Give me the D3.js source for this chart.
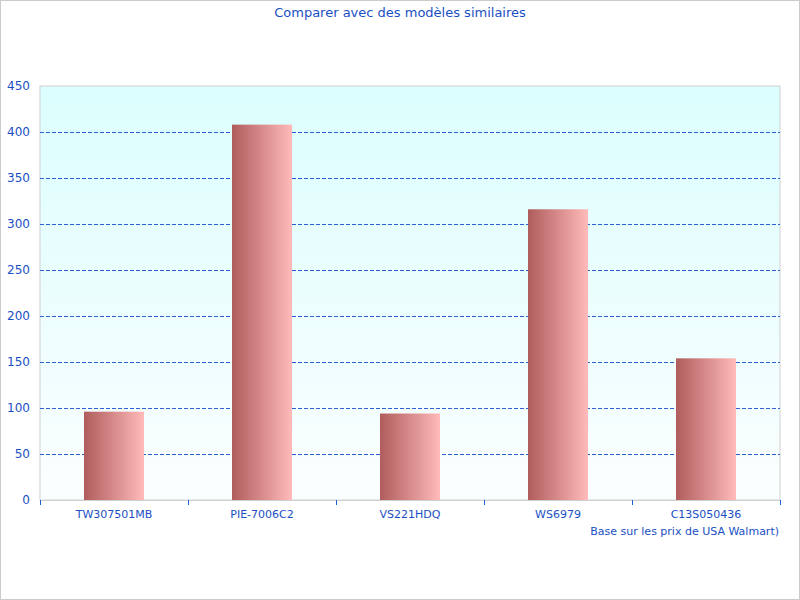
<!DOCTYPE html>
<html><head><meta charset="utf-8">
<script src="https://cdn.jsdelivr.net/npm/d3@7"></script>
<style>body{margin:0}text{font-family:"DejaVu Sans",sans-serif;fill:#1a4fc4}</style>
</head><body><svg id="c" width="800" height="600"></svg>
<script>
var categories = ["TW307501MB", "PIE-7006C2", "VS221HDQ", "WS6979", "C13S050436"];
var values = [96, 408, 94, 316, 154];
var yTicks = [0, 50, 100, 150, 200, 250, 300, 350, 400, 450];

var margin = {top: 86, right: 20, bottom: 100, left: 40},
    width = 800 - margin.left - margin.right,
    height = 600 - margin.top - margin.bottom;

var svg = d3.select("#c");
var defs = svg.append("defs");
var bg = defs.append("linearGradient").attr("id", "bg").attr("x1", 0).attr("y1", 0).attr("x2", 0).attr("y2", 1);
bg.append("stop").attr("offset", "0%").attr("stop-color", "#dcfefe");
bg.append("stop").attr("offset", "100%").attr("stop-color", "#fbfefe");
var bar = defs.append("linearGradient").attr("id", "bar");
bar.append("stop").attr("offset", "0%").attr("stop-color", "#b05c5c");
bar.append("stop").attr("offset", "100%").attr("stop-color", "#ffbaba");

svg.append("rect").attr("x", 0.5).attr("y", 0.5).attr("width", 799).attr("height", 599)
  .attr("fill", "#fff").attr("stroke", "#ccc");

svg.append("text").attr("x", 400).attr("y", 17).attr("text-anchor", "middle")
  .style("font-size", "13px").text("Comparer avec des modèles similaires");

var g = svg.append("g").attr("transform", "translate(" + margin.left + "," + margin.top + ")");

var x = d3.scaleBand().domain(categories).range([0, width]);
var y = d3.scaleLinear().domain([0, 450]).range([height, 0]);

g.append("rect").attr("width", width).attr("height", height).attr("fill", "url(#bg)")
  .attr("stroke", "#d0d0d0");

g.selectAll(".grid").data(yTicks.slice(1, -1)).enter().append("line")
  .attr("x1", 0).attr("x2", width).attr("y1", function(d) { return y(d) + 0.5; }).attr("y2", function(d) { return y(d) + 0.5; })
  .attr("stroke", "#2b5fd6").attr("stroke-dasharray", "4,2");

var bw = 60;
g.selectAll(".bar").data(values).enter().append("rect")
  .attr("x", function(d, i) { return x(categories[i]) + (x.bandwidth() - bw) / 2; })
  .attr("y", function(d) { return y(d); })
  .attr("width", bw).attr("height", function(d) { return height - y(d); })
  .attr("fill", "url(#bar)");

var ya = g.append("g").call(d3.axisLeft(y).tickValues(yTicks).tickSize(0).tickPadding(10));
ya.select(".domain").remove();
ya.selectAll("text").style("font-size", "12px").attr("fill", "#1a4fc4");

var xa = g.append("g").attr("transform", "translate(0," + height + ")")
  .call(d3.axisBottom(x).tickSize(0).tickPadding(10));
xa.select(".domain").attr("stroke", "#d0d0d0");
xa.selectAll("text").style("font-size", "11px").attr("fill", "#1a4fc4");
g.selectAll(".sep").data(d3.range(categories.length + 1)).enter().append("line")
  .attr("x1", function(i) { return i * x.step() + 0.5; }).attr("x2", function(i) { return i * x.step() + 0.5; })
  .attr("y1", height).attr("y2", height + 5).attr("stroke", "#1a5fd0");

svg.append("text").attr("x", 779).attr("y", 535).attr("text-anchor", "end")
  .style("font-size", "11px").text("Base sur les prix de USA Walmart)");
</script></body></html>
